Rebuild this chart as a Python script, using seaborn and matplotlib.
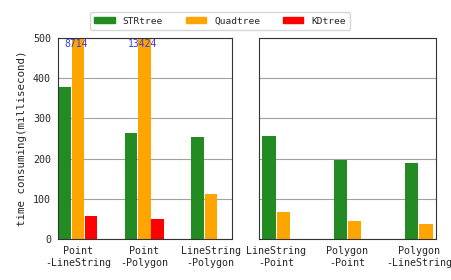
import matplotlib
matplotlib.use("Agg")
import matplotlib.pyplot as plt
import seaborn as sns
import pandas as pd
import numpy as np

left_cats = ["Point\n-LineString", "Point\n-Polygon", "LineString\n-Polygon"]
left_str = [377, 264, 253]
left_quad = [8714, 13424, 111]
left_kd = [58, 49, np.nan]

right_cats = ["LineString\n-Point", "Polygon\n-Point", "Polygon\n-LineString"]
right_str = [256, 196, 190]
right_quad = [67, 44, 38]

series = ["STRtree", "Quadtree", "KDtree"]
colors = {"STRtree": "#228B22", "Quadtree": "#FFA500", "KDtree": "#FF0000"}

sns.set_style("white")
plt.rcParams["font.family"] = ["DejaVu Sans Mono"]

left_df = pd.DataFrame({
    "cat": left_cats * 3,
    "method": ["STRtree"] * 3 + ["Quadtree"] * 3 + ["KDtree"] * 3,
    "value": left_str + left_quad + left_kd,
})
right_df = pd.DataFrame({
    "cat": right_cats * 2,
    "method": ["STRtree"] * 3 + ["Quadtree"] * 3,
    "value": right_str + right_quad,
})

fig = plt.figure(figsize=(4.52, 2.80), dpi=100)
ax1 = fig.add_axes([58/452, 1 - 239/280, 174/452, 201/280])
ax2 = fig.add_axes([259/452, 1 - 239/280, 177/452, 201/280])

sns.barplot(data=left_df, x="cat", y="value", hue="method", hue_order=series,
            palette=colors, saturation=1, width=0.6, gap=0.06, errorbar=None,
            linewidth=0, ax=ax1)
sns.barplot(data=right_df, x="cat", y="value", hue="method", hue_order=series[:2],
            palette=colors, saturation=1, width=0.4, gap=0.06, errorbar=None,
            linewidth=0, ax=ax2)

for ax in (ax1, ax2):
    ax.set_ylim(0, 500)
    ax.set_yticks([0, 100, 200, 300, 400, 500])
    ax.set_axisbelow(True)
    ax.yaxis.grid(True, color="#a0a0a0", linewidth=0.8)
    ax.set_xlabel("")
    for s in ax.spines.values():
        s.set_visible(True)
        s.set_color("#333333")
        s.set_linewidth(0.8)
    ax.tick_params(axis="both", labelsize=7.2, length=3, width=0.7, color="#333333", pad=2)
    if ax.get_legend() is not None:
        ax.get_legend().remove()

ax1.set_xlim(-0.3, 2.32)
ax2.set_xlim(-0.24, 2.24)
ax1.set_ylabel("time consuming(millisecond)", fontsize=7.8, labelpad=4)
ax2.set_ylabel("")
ax2.tick_params(axis="y", left=False, labelleft=False)

for i, v in enumerate(left_quad):
    if v > 500:
        ax1.text(i - 0.02, 497, str(v), ha="center", va="top", fontsize=7, color="#3a3ad8")

handles = [plt.Rectangle((0, 0), 1, 1, color=colors[s]) for s in series]
fig.legend(handles, series, loc="center", bbox_to_anchor=(220/452, 1 - 21/280), ncol=3,
           fontsize=6.8, frameon=True, edgecolor="#cccccc", handlelength=2.2,
           columnspacing=2.4, borderpad=0.45, handleheight=0.6)

fig.savefig("out.png", dpi=100)
